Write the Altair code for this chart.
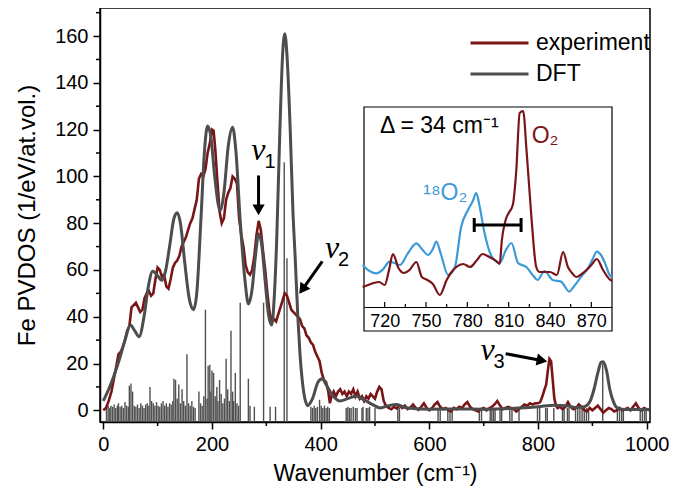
import math
import altair as alt
import pandas as pd

# ---------------- data ----------------
exp_wn = [0, 5, 10, 15, 20, 25, 28, 32, 36, 40, 44, 48, 52, 56, 60, 64, 68, 72, 76, 80, 84, 88, 92, 96,
          100, 104, 108, 112, 116, 120, 124, 128, 132, 136, 140, 144, 148, 152, 156, 160, 164, 168, 172,
          176, 180, 184, 188, 192, 196, 200, 203, 206, 210, 214, 218, 222, 226, 230, 234, 238, 242, 246,
          250, 254, 258, 262, 266, 270, 274, 278, 282, 286, 290, 294, 298, 302, 306, 310, 314, 318, 322,
          326, 330, 334, 338, 342, 346, 350, 354, 358, 362, 366, 370, 374, 378, 382, 386, 390, 394, 398,
          402, 406, 410, 414, 417, 420, 424, 428, 432, 436, 440, 444, 448, 452, 456, 460, 464, 468, 472,
          476, 480, 484, 488, 492, 496, 500, 504, 508, 512, 516, 520, 525, 530, 535, 540, 545, 550, 555,
          560, 565, 570, 575, 580, 585, 590, 595, 600, 605, 610, 615, 620, 625, 630, 635, 640, 645, 650,
          655, 660, 665, 670, 675, 680, 685, 690, 695, 700, 705, 710, 715, 720, 725, 730, 735, 740, 745,
          750, 755, 760, 765, 770, 775, 780, 785, 790, 795, 800, 804, 808, 812, 815, 818, 821, 824, 827,
          830, 833, 836, 840, 845, 850, 855, 860, 865, 870, 875, 880, 885, 890, 895, 900, 905, 910, 915,
          920, 925, 930, 935, 940, 945, 950, 955, 960, 965, 970, 975, 980, 985, 990, 995, 1000, 1005]
exp_val = [0, 1, 4, 8, 14, 20, 24, 25, 27, 30, 34, 36, 44, 45, 46, 44, 42, 43, 48, 50, 51, 49, 50, 56,
           61, 60, 57, 58, 53, 52, 56, 61, 63, 64, 66, 70, 72, 74, 77, 80, 82, 86, 90,
           99, 101, 100, 103, 110, 114, 120, 119.5, 112, 98, 85, 80, 82, 90, 93, 95, 100, 99, 97,
           82, 75, 70, 62, 59, 58, 60, 66, 75, 81, 77, 68, 60, 50, 42, 38, 39, 38, 41,
           44, 47, 50, 49, 46, 43, 42, 41, 40, 39, 36, 35, 32, 31, 29, 28, 25, 23, 21,
           16, 13, 12, 8, 3, 6, 8, 6, 8, 9, 7, 8, 6, 8, 7, 9, 6, 8, 5,
           6, 4, 6, 5, 7, 6, 5, 8, 10, 9, 4, 2, 1, 0.5, 1.5, 0.8, 2, 1, 2,
           0.5, 1.2, 2.5, 1, 0.2, 1.5, 3, 1, 0, 1, 2.5, 3.5, 1.5, 0.5, 1, 0, -0.5, 1, 0.5,
           1.5, 1, 2.5, 3.5, 1.5, 0.5, 0, -0.5, 0.5, 1, 0, 0.8, 1.5, 2.5, 4, 2, 0.5, 1, 1.5,
           1, 0.5, -0.5, 0.5, 1.5, 2.5, 2, 3, 2.5, 3, 3, 3.5, 6, 9, 11, 17, 22, 21, 13,
           5, 2, 1, 1.5, 0.5, 1.5, 3.5, 1.5, 0.5, 1, 2.5, 1.5, 0, -0.5, 1, 0, 1, 2, 0.5,
           -1, 0, 1, 0.5, -0.5, 0, 1, 0, 0.5, 1, 0, 1.5, 3, 1, 0, 1, 0.5, 0]

dft_wn = [0, 10, 20, 30, 40, 50, 58, 66, 75, 83, 91, 100, 108, 115, 122, 130, 136, 142, 150, 158, 166,
          172, 180, 186, 192, 198, 205, 215, 222, 230, 238, 244, 252, 261, 267, 274, 280, 286, 292,
          298, 304, 310, 315, 319, 325, 330, 334, 338, 344, 349, 353, 358, 362, 367, 372, 376, 385,
          395, 403, 410, 420, 435, 450, 465, 480, 495, 510, 525, 540, 555, 570, 600, 650, 700, 750,
          800, 830, 850, 870, 885, 895, 903, 910, 916, 920, 926, 932, 939, 946, 960, 1005]
dft_val = [4, 9, 15, 22, 30, 36.5, 34, 31.5, 40, 53, 59.5, 57.5, 55.5, 60, 70, 82, 84.5, 80, 63, 48, 43,
           50, 83, 110, 121.5, 117, 100, 85.5, 93, 113, 121, 111, 81, 55, 45.5, 52, 66, 75.5, 70,
           55, 41, 36.5, 50, 72, 120, 152, 161, 152, 120, 85, 66, 40, 24, 11, 4, 2, 5,
           12, 13.5, 11, 7, 4, 5, 6, 4.5, 2.5, 1, 2, 2.5, 1.2, 0.8, 0.5, 0.6, 0.5, 0.8,
           1.5, 2.2, 2, 1.2, 1.5, 3.5, 9, 16, 20.5, 20.8, 17, 9, 3.5, 1, 0.3, 0.3]

stick_wn = [6, 9, 12, 14, 17, 20, 23, 26, 28, 31, 34, 37, 40, 43, 46, 48, 51, 54, 57, 60, 63, 66, 69,
            72, 75, 78, 81, 84, 86, 89, 92, 95, 98, 101, 104, 107, 110, 113, 116, 119, 122, 125, 128,
            130, 133, 136, 139, 142, 145, 148, 151, 154, 157, 160, 163, 166, 169,
            176, 179, 182, 185, 188, 191, 193, 196, 198, 200, 203, 206, 209, 211, 214, 217, 220, 223,
            226, 229, 232, 235, 238, 240, 243, 246, 249, 252, 267, 270, 278, 295, 307, 317, 333, 338,
            382, 385, 388, 391, 394, 398, 401, 404, 407, 410, 413, 416,
            447, 450, 453, 456, 460, 464, 467, 476, 478, 484, 487, 490, 500, 542, 545,
            616, 620, 634, 638, 642, 692, 696, 712, 715, 718, 721, 730, 733, 748, 752, 765, 799, 803,
            814, 817, 829, 845, 848, 854, 857, 869, 873, 877, 881, 885, 889, 893, 919, 946, 950, 954,
            957, 988, 992, 996, 999]
stick_h = [1.5, 2, 1, 2, 1.5, 2.5, 1, 2, 3, 1.5, 2, 1, 3.5, 2, 1.5, 10.5, 11.5, 8, 2, 1.5, 2.5, 1, 3,
           2, 1, 2.5, 3, 2, 10, 4, 3, 2, 3.5, 2, 1.5, 3, 4, 2, 3, 1.5, 3, 2.5, 4,
           13.5, 13, 5, 11, 3, 9, 4, 2, 24, 3, 2, 4, 1.5, 1,
           8, 3, 2, 6, 43, 5, 19, 19.5, 8, 17, 16, 6, 10, 4, 13, 7, 3, 5,
           22, 9, 4, 34, 8, 4, 16, 3, 2, 46, 13.5, 2, 1.5, 46, 1.5, 1.5, 106, 65,
           1.5, 1, 2, 1, 1.5, 4.5, 2, 1, 2, 1, 1.5, 1,
           1, 1.5, 1, 1, 1.5, 1, 1, 1, 1.5, 1, 1, 1.5, 1, 1, 1,
           1, 1, 1, 1, 1, 1, 1, 1, 1, 1, 1, 1, 1, 1, 1, 1, 1, 1,
           1, 1, 1, 1, 1, 1, 1, 1, 1, 1, 1, 1, 1, 1, 20, 1, 1, 1,
           1, 1, 1, 1, 1]

# inset (arbitrary intensity units 0-100)
o2_wn = [704, 708, 712, 716, 720, 723, 726, 730, 734, 738, 743, 747, 751, 755, 760, 765, 768, 772, 777,
         782, 787, 791, 796, 801, 803.5, 805, 808, 810, 813, 815.5, 818, 820.5, 823, 826.5, 830, 832.5,
         836, 840, 845, 849.5, 853, 856, 859, 863, 866.5, 870, 874, 878.5, 883, 885]
o2_val = [10, 11, 12, 12.5, 11, 18, 26.5, 19.5, 17, 18.5, 22.5, 15, 13.5, 11.5, 6, 13.5, 17, 20, 21.5,
          20, 23.5, 26.5, 25, 23, 21.5, 33, 44, 47, 51, 68, 97, 98, 78, 45, 20, 17.5,
          17.5, 17.5, 16, 27.5, 20, 17, 15, 16.5, 18.5, 21, 24, 18.5, 14, 13]
o18_wn = [704, 709, 714, 719, 723.5, 727, 731, 737, 743, 747, 751.5, 755, 757.5, 761, 766, 771, 775.5,
          780.5, 784, 786.5, 789, 792.5, 797.5, 803.5, 808, 812, 816.8, 822.8, 828, 831, 836, 842, 848,
          854, 857, 860, 863, 867.5, 871, 874, 877, 880, 883.3, 885]
o18_val = [21, 18, 16.8, 19, 22.7, 22, 21, 27, 31.8, 29, 26, 29, 32.7, 26, 16, 20, 40,
           48.5, 53, 57, 50, 37, 25.5, 22, 28.5, 32, 22, 20, 15.5, 13.5, 18, 13.5, 12.7,
           7.7, 10, 12.7, 15.5, 19.3, 24, 27.7, 26, 21.8, 16, 15]

x_ticks = [0, 200, 400, 600, 800, 1000]
x_minor = [100, 300, 500, 700, 900]
y_ticks = [0, 20, 40, 60, 80, 100, 120, 140, 160]
y_minor = [10, 30, 50, 70, 90, 110, 130, 150, 170]
inset_ticks = [720, 750, 780, 810, 840, 870]
inset_minor = [735, 765, 795, 825, 855]

series_names = ["experiment", "DFT"]
series_colors = ["#7a1517", "#4d4d4d"]
o2_color = "#7a1517"
o18_color = "#3d9ad8"

# annotations: label anchor, arrow tail and tip (data units)
nu_text = ["\u03bd", "\u03bd", "\u03bd"]
nu_sub = ["1", "2", "3"]
nu_x = [285.5, 421, 707]
nu_y = [107, 65, 21.4]
arr_tail_x = [285.7, 403, 740.5]
arr_tail_y = [100.4, 63.7, 24.2]
arr_tip_x = [285.7, 362.6, 813.7]
arr_tip_y = [84.2, 50.4, 21.0]

# ---------------- layout ----------------
W, H = 550, 414
PAD_L = 92
XDOM = [-6, 1006]
YDOM = [-5, 172]
FONT = "Liberation Sans"

XM = alt.Scale(domain=XDOM, nice=False, zero=False)
YM = alt.Scale(domain=YDOM, nice=False, zero=False)
XI = alt.Scale(domain=[705, 885], range=[264, 512], nice=False, zero=False)
YI = alt.Scale(domain=[0, 100], range=[299, 99], nice=False, zero=False)

ax_x = alt.Axis(values=x_ticks, title="Wavenumber (cm\u207b\u00b9)", grid=False, tickSize=7,
                tickWidth=1.5, tickColor="black", domainColor="black", domainWidth=1.5,
                labelFontSize=20, labelColor="black", labelPadding=5, labelFlush=False,
                titleFontSize=23, titleFontWeight="normal", titleColor="black", titlePadding=8,
                format="d")
ax_y = alt.Axis(values=y_ticks, title="Fe PVDOS (1/eV/at.vol.)", grid=False, tickSize=7,
                tickWidth=1.5, tickColor="black", domainColor="black", domainWidth=1.5,
                labelFontSize=20, labelColor="black", labelPadding=5, labelFlush=False,
                titleFontSize=24, titleFontWeight="normal", titleColor="black", titlePadding=15,
                format="d")
ax_xi = alt.Axis(orient="bottom", offset=-115, values=inset_ticks, title=None, grid=False,
                 ticks=False, tickSize=0, domainColor="black", domainWidth=1.2, labelFontSize=18,
                 labelColor="black", labelPadding=5, labelFlush=False, format="d", zindex=2)


def xm(f):
    return alt.X(f, type="quantitative", scale=XM, axis=ax_x)


def ym(f):
    return alt.Y(f, type="quantitative", scale=YM, axis=ax_y)


def xi(f):
    return alt.X(f, type="quantitative", scale=XI, axis=ax_xi)


def yi(f):
    return alt.Y(f, type="quantitative", scale=YI, axis=None)


color_enc = alt.Color(
    "series:N",
    scale=alt.Scale(domain=series_names, range=series_colors),
    legend=alt.Legend(orient="none", legendX=369, legendY=23, title=None, symbolType="stroke",
                      symbolSize=58 * 58, symbolStrokeWidth=3, labelFontSize=23, labelFont=FONT,
                      labelColor="black", labelOffset=6, clipHeight=24, rowPadding=7, padding=0),
)

exp_df = pd.DataFrame({"x": exp_wn, "y": exp_val, "series": "experiment"})
dft_df = pd.DataFrame({"x": dft_wn, "y": dft_val, "series": "DFT"})
stick_df = pd.DataFrame({"x": stick_wn, "y": stick_h, "y0": YDOM[0]})

sticks = alt.Chart(stick_df).mark_rule(color="#505050", strokeWidth=1.4).encode(
    x=xm("x"), y=ym("y"), y2="y0:Q")
exp_line = alt.Chart(exp_df).mark_line(strokeWidth=2.6, interpolate="linear").encode(
    x=xm("x"), y=ym("y"), color=color_enc)
dft_line = alt.Chart(dft_df).mark_line(strokeWidth=3, interpolate="monotone").encode(
    x=xm("x"), y=ym("y"), color=color_enc)

ymin_df = pd.DataFrame({"y": y_minor})
xmin_df = pd.DataFrame({"x": x_minor})
y_minor_ticks = alt.Chart(ymin_df).mark_rule(color="black", strokeWidth=1.5).encode(
    y=ym("y"), x=alt.value(-4), x2=alt.value(0))
x_minor_ticks = alt.Chart(xmin_df).mark_rule(color="black", strokeWidth=1.5).encode(
    x=xm("x"), y=alt.value(H), y2=alt.value(H + 4))

# arrows: shaft + triangular head, computed in pixel space from the scales' ratios
pxx = W / (XDOM[1] - XDOM[0])
pxy = H / (YDOM[1] - YDOM[0])
HEAD = 150
h_half = math.sqrt(3) / 2 * math.sqrt(HEAD) / 2
rows = []
for tx, ty, px_, py_ in zip(arr_tail_x, arr_tail_y, arr_tip_x, arr_tip_y):
    dxp = (px_ - tx) * pxx
    dyp = -(py_ - ty) * pxy
    L = math.hypot(dxp, dyp)
    ux, uy = dxp / L, dyp / L
    cx = px_ - ux * h_half / pxx
    cy = py_ + uy * h_half / pxy
    ang = math.degrees(math.atan2(ux, -uy)) % 360
    rows.append({"tx": tx, "ty": ty, "cx": cx, "cy": cy, "ang": ang})
arr_df = pd.DataFrame(rows)
shafts = alt.Chart(arr_df).mark_rule(color="black", strokeWidth=3).encode(
    x=xm("tx"), y=ym("ty"), x2="cx:Q", y2="cy:Q")
heads = alt.Chart(arr_df).mark_point(shape="triangle", filled=True, color="black", opacity=1,
                                     size=HEAD).encode(
    x=xm("cx"), y=ym("cy"), angle=alt.Angle("ang:Q", scale=None))

nu_df = pd.DataFrame({"x": nu_x, "y": nu_y, "t": nu_text, "s": nu_sub})
nu_marks = alt.Chart(nu_df).mark_text(font="Liberation Serif", fontStyle="italic", fontSize=32,
                                      align="center", baseline="alphabetic", color="black").encode(
    x=xm("x"), y=ym("y"), text="t:N")
nu_subs = alt.Chart(nu_df).mark_text(font=FONT, fontSize=20, align="left", baseline="alphabetic",
                                     color="black", dx=6, dy=8).encode(
    x=xm("x"), y=ym("y"), text="s:N")

main = alt.layer(sticks, exp_line, dft_line, y_minor_ticks, x_minor_ticks, shafts, heads,
                 nu_marks, nu_subs)

# ---------------- inset ----------------
box_df = pd.DataFrame({"x": [705], "x2": [885], "y": [-12], "y2": [100]})
box = alt.Chart(box_df).mark_rect(fill="white", stroke="black", strokeWidth=1.2).encode(
    x=xi("x"), x2="x2:Q", y=yi("y"), y2="y2:Q")
o18_line = alt.Chart(pd.DataFrame({"x": o18_wn, "y": o18_val})).mark_line(
    color=o18_color, strokeWidth=2.2, interpolate="monotone").encode(x=xi("x"), y=yi("y"))
o2_line = alt.Chart(pd.DataFrame({"x": o2_wn, "y": o2_val})).mark_line(
    color=o2_color, strokeWidth=2.2, interpolate="monotone").encode(x=xi("x"), y=yi("y"))

bar_df = pd.DataFrame({"x": [785], "x2": [819], "y": [41]})
bar = alt.Chart(bar_df).mark_rule(color="black", strokeWidth=3).encode(
    x=xi("x"), x2="x2:Q", y=yi("y"))
cap_df = pd.DataFrame({"x": [785, 819], "y": [37.5, 37.5], "y2": [44.5, 44.5]})
caps = alt.Chart(cap_df).mark_rule(color="black", strokeWidth=3).encode(
    x=xi("x"), y=yi("y"), y2="y2:Q")

itk = pd.DataFrame({"x": inset_ticks + inset_minor,
                    "y": [0] * (len(inset_ticks) + len(inset_minor)),
                    "y2": [2.5] * len(inset_ticks) + [1.5] * len(inset_minor)})
inset_ticks_m = alt.Chart(itk).mark_rule(color="black", strokeWidth=1.2).encode(
    x=xi("x"), y=yi("y"), y2="y2:Q")

txt_df = pd.DataFrame({
    "x": [716.6, 826.7, 748],
    "y": [87, 82, 53.5],
    "t": ["\u0394 = 34 cm\u207b\u00b9", "O\u2082", "\u00b9\u2078O\u2082"],
    "c": ["black", o2_color, o18_color],
})
inset_text = alt.Chart(txt_df).mark_text(font=FONT, fontSize=23, align="left",
                                         baseline="alphabetic").encode(
    x=xi("x"), y=yi("y"), text="t:N", color=alt.Color("c:N", scale=None))

inset = alt.layer(box, o18_line, o2_line, bar, caps, inset_ticks_m, inset_text)

chart = alt.layer(main, inset).resolve_scale(x="independent", y="independent").properties(
    width=W, height=H,
    autosize=alt.AutoSizeParams(type="none"),
    padding={"left": PAD_L, "top": 0, "right": 19, "bottom": 65},
).configure_view(stroke="black", strokeWidth=1.5).configure_axis(
    labelFont=FONT, titleFont=FONT).configure_text(font=FONT)

chart.save("out.html", embed_options={"renderer": "svg", "actions": False})
